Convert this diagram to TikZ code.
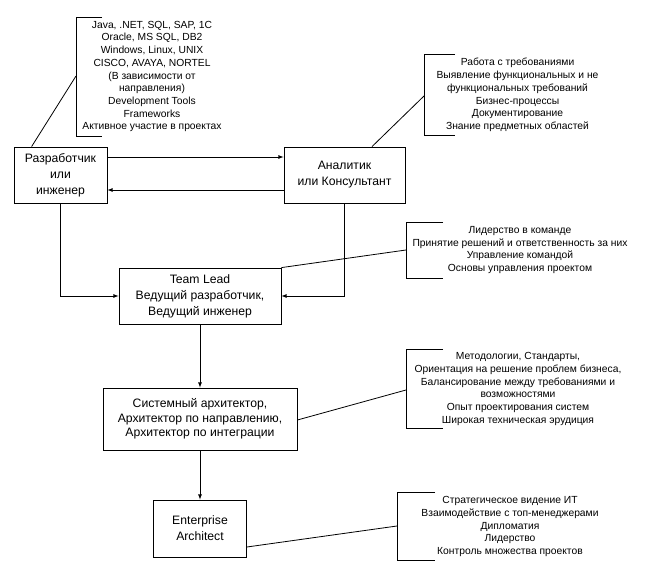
\documentclass[tikz,border=0pt]{standalone}
\usepackage{fontspec}
\setmainfont{Liberation Sans}
\usetikzlibrary{arrows}

\begin{document}
\begin{tikzpicture}[
    x=1pt, y=-1pt,
    >=latex,
    line width=0.8pt,
    role/.style={draw, fill=white, inner sep=0pt, align=center, font=\fontsize{12.2}{16}\selectfont},
    note/.style={inner sep=0pt, align=center, font=\fontsize{10.3}{12.7}\selectfont}
]
\useasboundingbox (0,0) rectangle (648,585);

% roles
\node[role, minimum width=93pt, minimum height=56pt] (dev) at (60.5,175) {Разработчик\\или\\инженер};
\node[role, minimum width=121pt, minimum height=56pt] (analyst) at (344.5,175) {Аналитик\\или Консультант};
\node[role, minimum width=162pt, minimum height=56pt] (lead) at (200,296) {Team Lead\\Ведущий разработчик,\\Ведущий инженер};
\node[role, minimum width=194pt, minimum height=62pt, font=\fontsize{12.2}{14.5}\selectfont] (sysarch) at (200,419) {Системный архитектор,\\Архитектор по направлению,\\Архитектор по интеграции};
\node[role, minimum width=93pt, minimum height=57pt] (entarch) at (200,528.5) {Enterprise\\Architect};

% skills
\node[note] (devnote) at (152,76.5) {Java, .NET, SQL, SAP, 1C\\Oracle, MS SQL, DB2\\Windows, Linux, UNIX\\CISCO, AVAYA, NORTEL\\(В зависимости от\\направления)\\Development Tools\\Frameworks\\Активное участие в проектах};
\node[note] (analystnote) at (517.5,95) {Работа с требованиями\\Выявление функциональных и не\\функциональных требований\\Бизнес-процессы\\Документирование\\Знание предметных областей};
\node[note] (leadnote) at (520,250) {Лидерство в команде\\Принятие решений и ответственность за них\\Управление командой\\Основы управления проектом};
\node[note] (sysarchnote) at (518,389) {Методологии, Стандарты,\\Ориентация на решение проблем бизнеса,\\Балансирование между требованиями и\\возможностями\\Опыт проектирования систем\\Широкая техническая эрудиция};
\node[note] (entarchnote) at (510,526.5) {Стратегическое видение ИТ\\Взаимодействие с топ-менеджерами\\Дипломатия\\Лидерство\\Контроль множества проектов};

% brackets
\draw (102,17) -| (76,136) -- (102,136);
\draw (455,54) -| (424,135) -- (455,135);
\draw (443,222) -| (406,278) -- (443,278);
\draw (443,349) -| (406,428) -- (443,428);
\draw (435,492) -| (397,560) -- (435,560);
\coordinate (devbr) at (76,76);
\coordinate (analystbr) at (424,96);
\coordinate (leadbr) at (406,250);
\coordinate (sysarchbr) at (406,390);
\coordinate (entarchbr) at (397,526);

% career paths
\draw[->] ([yshift=18pt]dev.east) -- ([yshift=18pt]analyst.west);
\draw[->] ([yshift=-15pt]analyst.west) -- ([yshift=-15pt]dev.east);
\draw[->] (dev.south) |- (lead.west);
\draw[->] (analyst.south) |- (lead.east);
\draw[->] (lead.south) -- (sysarch.north);
\draw[->] (sysarch.south) -- (entarch.north);

% callouts
\draw ([xshift=18pt]dev.north west) -- (devbr);
\draw ([xshift=27.5pt]analyst.north) -- (analystbr);
\draw (lead.north east) -- (leadbr);
\draw ([yshift=-1pt]sysarch.east) -- (sysarchbr);
\draw ([yshift=-18.5pt]entarch.east) -- (entarchbr);
\end{tikzpicture}
\end{document}
